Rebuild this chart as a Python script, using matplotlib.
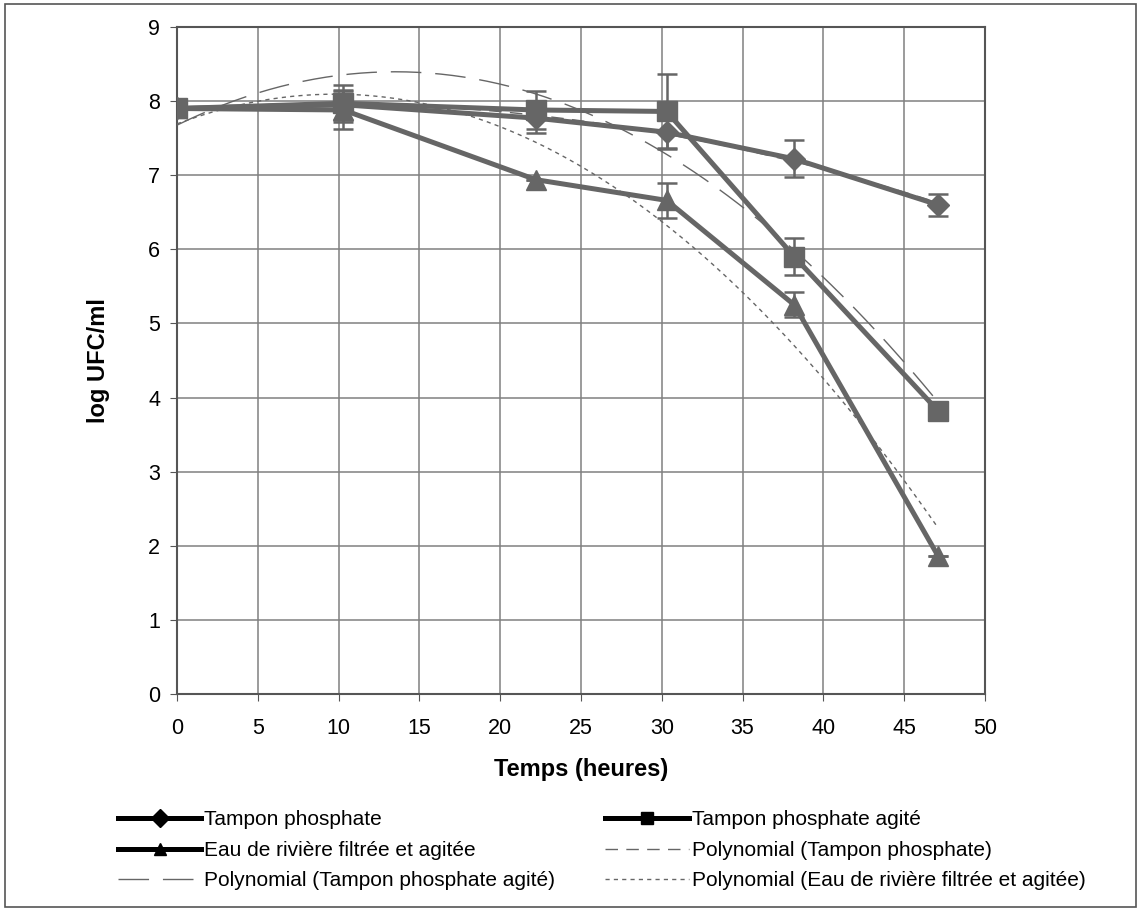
import numpy as np
import matplotlib.pyplot as plt
from matplotlib.patches import Rectangle

plt.rcParams['font.family'] = ['Liberation Sans', 'DejaVu Sans']

# data
temps = [0, 10.3, 22.2, 30.3, 38.2, 47.1]
tp = [7.9, 7.95, 7.77, 7.58, 7.22, 6.60]          # Tampon phosphate
tp_err = [0, 0.2, 0.2, 0.21, 0.25, 0.15]
tpa = [7.9, 7.97, 7.88, 7.86, 5.90, 3.82]        # Tampon phosphate agité
tpa_err = [0, 0.25, 0.25, 0.5, 0.25, 0]
eau = [7.9, 7.88, 6.94, 6.66, 5.25, 1.86]        # Eau de rivière filtrée et agitée
eau_err = [0, 0.25, 0, 0.24, 0.17, 0]

grey = '#666666'

fig = plt.figure(figsize=(11.39, 9.11), dpi=100)
fig.patches.append(Rectangle((0.004, 0.004), 0.993, 0.992, transform=fig.transFigure,
                             fill=False, edgecolor='#555555', linewidth=1.2))
ax = fig.add_axes([0.1554, 0.2382, 0.7094, 0.7322])

kw = dict(color=grey, linewidth=3.6, capsize=7, elinewidth=1.8, capthick=1.8, zorder=4)
l1 = ax.errorbar(temps, tp, yerr=tp_err, marker='D', markersize=11,
                 label='Tampon phosphate', **kw)
l2 = ax.errorbar(temps, tpa, yerr=tpa_err, marker='s', markersize=14,
                 label='Tampon phosphate agité', **kw)
l3 = ax.errorbar(temps, eau, yerr=eau_err, marker='^', markersize=14,
                 label='Eau de rivière filtrée et agitée', **kw)

# polynomial trend lines (order 2)
xs = np.linspace(temps[0], temps[-1], 200)
p1, = ax.plot(xs, np.polyval(np.polyfit(temps, tp, 2), xs), color=grey, lw=1,
              dashes=(9, 6), label='Polynomial (Tampon phosphate)', zorder=3)
p2, = ax.plot(xs, np.polyval(np.polyfit(temps, tpa, 2), xs), color=grey, lw=1,
              dashes=(22, 10), label='Polynomial (Tampon phosphate agité)', zorder=3)
p3, = ax.plot(xs, np.polyval(np.polyfit(temps, eau, 2), xs), color=grey, lw=1,
              dashes=(3, 3), label='Polynomial (Eau de rivière filtrée et agitée)', zorder=3)

ax.set_xlim(0, 50)
ax.set_ylim(0, 9)
ax.set_xticks(range(0, 51, 5))
ax.set_yticks(range(0, 10))
ax.grid(True, color='#808080', linewidth=1.1)
ax.set_axisbelow(True)
for s in ax.spines.values():
    s.set_color('#555555')
    s.set_linewidth(1.5)
ax.tick_params(labelsize=15.5, length=5, color='#555555')
ax.tick_params(axis='x', pad=12)
ax.tick_params(axis='y', pad=7)
ax.set_xlabel('Temps (heures)', fontsize=17, fontweight='bold')
ax.set_ylabel('log UFC/ml', fontsize=17, fontweight='bold')
ax.xaxis.set_label_coords(0.5, -0.096)
ax.yaxis.set_label_coords(-0.083, 0.5)

handles = [l1[0], l3[0], p2, l2[0], p1, p3]
labels = [l1.get_label(), l3.get_label(), p2.get_label(),
          l2.get_label(), p1.get_label(), p3.get_label()]
leg = fig.legend(handles=handles, labels=labels, ncol=2,
                 loc='upper left', bbox_to_anchor=(0.087, 0.131), frameon=False,
                 fontsize=15, columnspacing=2.4, handlelength=4.0, handletextpad=0.15,
                 labelspacing=0.55)
for h in leg.legend_handles[:2] + leg.legend_handles[3:4]:
    h.set_color('black')
    h.set_markersize(9)

fig.savefig('out.png', dpi=100)
